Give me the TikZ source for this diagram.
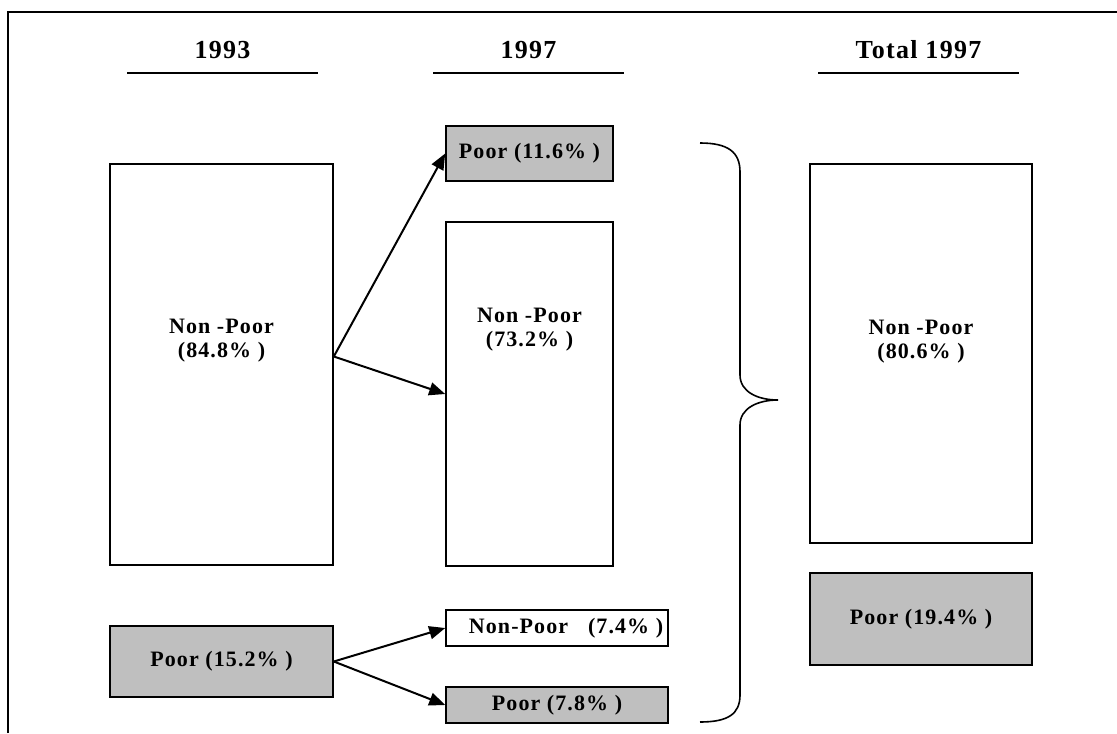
\documentclass[tikz,border=0pt]{standalone}
\usepackage{fontspec}
\setmainfont{Liberation Serif}[LetterSpace=5]
\usetikzlibrary{arrows.meta}

\tikzset{
    box/.style={draw, line width=0.8pt, inner sep=0pt, font=\fontsize{11}{12}\selectfont\bfseries, align=center},
    poorbox/.style={box, fill=black!25},
    head/.style={font=\fontsize{13}{14}\selectfont\bfseries},
    flow/.style={line width=1pt, -{Triangle[length=8pt,width=6.5pt]}}
}

\begin{document}
\begin{tikzpicture}[x=0.5pt, y=-0.5pt]
    \useasboundingbox (0,0) rectangle (1117,733);

    % Frame
    \draw[line width=1.2pt] (8,733) -- (8,12) -- (1117,12);

    % Column headings
    \node[head] (h93) at (222.5,50) {1993};
    \node[head] (h97) at (528.5,50) {1997};
    \node[head] (htot) at (918.5,50) {Total 1997};
    \draw[line width=1pt] (127,73) -- (318,73);
    \draw[line width=1pt] (433,73) -- (624,73);
    \draw[line width=1pt] (818,73) -- (1019,73);

    % 1993
    \node[box, minimum width=111.5pt, minimum height=200.5pt,
        label={[yshift=12pt, box, draw=none]center:Non -Poor\\(84.8\% )}] (np93) at (221.5,364.5) {};
    \node[poorbox, minimum width=111.5pt, minimum height=35.5pt] (p93) at (221.5,661.5) {Poor (15.2\% )};

    % 1997
    \node[poorbox, minimum width=83.5pt, minimum height=27.5pt] (p97a) at (529.5,153.5) {Poor (11.6\% )};
    \node[box, minimum width=83.5pt, minimum height=172pt,
        label={[yshift=32pt, box, draw=none]center:Non -Poor\\(73.2\% )}] (np97a) at (529.5,394) {};
    \node[box, minimum width=111pt, minimum height=18pt] (np97b) at (557,628) {\hspace*{9pt}Non-Poor~~~(7.4\% )};
    \node[poorbox, minimum width=111pt, minimum height=18pt] (p97b) at (557,705) {Poor (7.8\% )};

    % Total 1997
    \node[box, minimum width=111pt, minimum height=189.5pt,
        label={[yshift=6pt, box, draw=none]center:Non -Poor\\(80.6\% )}] (nptot) at (921,353.5) {};
    \node[poorbox, minimum width=111pt, minimum height=46pt] (ptot) at (921,619) {Poor (19.4\% )};

    % Transitions
    \coordinate (fork) at ([yshift=4pt]np93.east);
    \draw[flow] (fork) -- (p97a.west);
    \draw[flow] (fork) -- (np97a.west);
    \draw[flow] (p93.east) -- (np97b.west);
    \draw[flow] (p93.east) -- (p97b.west);

    % Brace
    \coordinate (tip) at (778,400);
    \draw[line width=0.8pt] (700,143) .. controls (728,143) and (740,152) .. (740,172)
        -- (740,375) .. controls (740,392) and (758,400) .. (tip)
        .. controls (758,400) and (740,408) .. (740,425)
        -- (740,695) .. controls (740,714) and (728,722) .. (700,722);
\end{tikzpicture}
\end{document}
